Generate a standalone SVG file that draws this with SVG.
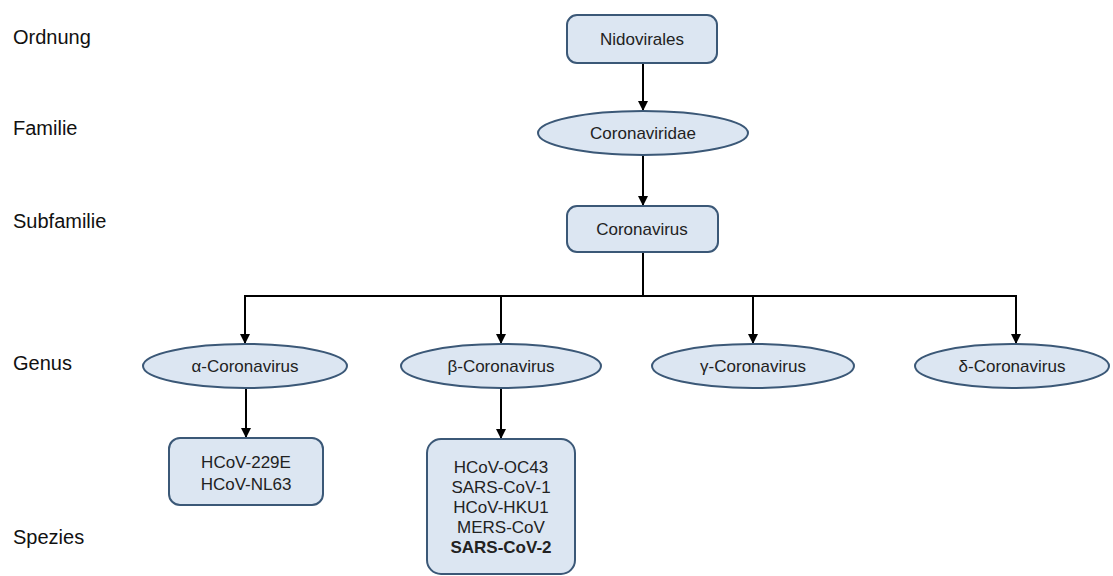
<svg xmlns="http://www.w3.org/2000/svg" width="1113" height="576" viewBox="0 0 1113 576">
<defs>
<style>
.n{fill:#dce6f2;stroke:#3b5877;stroke-width:2}
.t{font-family:"Liberation Sans",Arial,sans-serif;font-size:17px;fill:#222;text-anchor:middle}
.l{font-family:"Liberation Sans",Arial,sans-serif;font-size:20px;fill:#111}
.c{fill:none;stroke:#000;stroke-width:2}
</style>
<marker id="a" markerWidth="10" markerHeight="10" refX="9" refY="5" orient="auto" markerUnits="userSpaceOnUse">
<path d="M0,0 L10,5 L0,10 Z" fill="#000"/>
</marker>
</defs>
<rect width="1113" height="576" fill="#fff"/>
<g id="ranks">
<text class="l" x="13" y="44">Ordnung</text>
<text class="l" x="13" y="135">Familie</text>
<text class="l" x="13" y="228">Subfamilie</text>
<text class="l" x="13" y="370">Genus</text>
<text class="l" x="13" y="544">Spezies</text>
</g>
<g id="connectors">
<line class="c" x1="643" y1="63" x2="643" y2="110" marker-end="url(#a)"/>
<line class="c" x1="643" y1="155" x2="643" y2="205" marker-end="url(#a)"/>
<polyline class="c" points="643,252 643,296"/>
<polyline class="c" points="245,296 1016,296"/>
<line class="c" x1="245" y1="295" x2="245" y2="343" marker-end="url(#a)"/>
<line class="c" x1="501" y1="295" x2="501" y2="343" marker-end="url(#a)"/>
<line class="c" x1="753" y1="295" x2="753" y2="343" marker-end="url(#a)"/>
<line class="c" x1="1016" y1="295" x2="1016" y2="343" marker-end="url(#a)"/>
<line class="c" x1="246" y1="389" x2="246" y2="437" marker-end="url(#a)"/>
<line class="c" x1="501" y1="389" x2="501" y2="438" marker-end="url(#a)"/>
</g>
<g id="nidovirales">
<rect class="n" x="567" y="15" width="150" height="48" rx="10"/>
<text class="t" x="642" y="45">Nidovirales</text>
</g>
<g id="coronaviridae">
<ellipse class="n" cx="643" cy="133" rx="105" ry="22"/>
<text class="t" x="643" y="139">Coronaviridae</text>
</g>
<g id="coronavirus">
<rect class="n" x="567" y="206" width="151" height="46" rx="10"/>
<text class="t" x="642" y="235">Coronavirus</text>
</g>
<g id="alpha">
<ellipse class="n" cx="245" cy="366" rx="102" ry="22"/>
<text class="t" x="245" y="372">α-Coronavirus</text>
</g>
<g id="beta">
<ellipse class="n" cx="501" cy="366" rx="100" ry="22"/>
<text class="t" x="501" y="372">β-Coronavirus</text>
</g>
<g id="gamma">
<ellipse class="n" cx="753" cy="366" rx="101" ry="22"/>
<text class="t" x="753" y="372">γ-Coronavirus</text>
</g>
<g id="delta">
<ellipse class="n" cx="1012" cy="366" rx="97" ry="22"/>
<text class="t" x="1012" y="372">δ-Coronavirus</text>
</g>
<g id="alpha-species">
<rect class="n" x="169" y="438" width="154" height="67" rx="11"/>
<text class="t" x="246" y="468">HCoV-229E</text>
<text class="t" x="246" y="490">HCoV-NL63</text>
</g>
<g id="beta-species">
<rect class="n" x="427" y="439" width="148" height="135" rx="14"/>
<text class="t" x="501" y="473">HCoV-OC43</text>
<text class="t" x="501" y="493">SARS-CoV-1</text>
<text class="t" x="501" y="513">HCoV-HKU1</text>
<text class="t" x="501" y="533">MERS-CoV</text>
<text class="t" x="501" y="553" font-weight="bold">SARS-CoV-2</text>
</g>
</svg>
